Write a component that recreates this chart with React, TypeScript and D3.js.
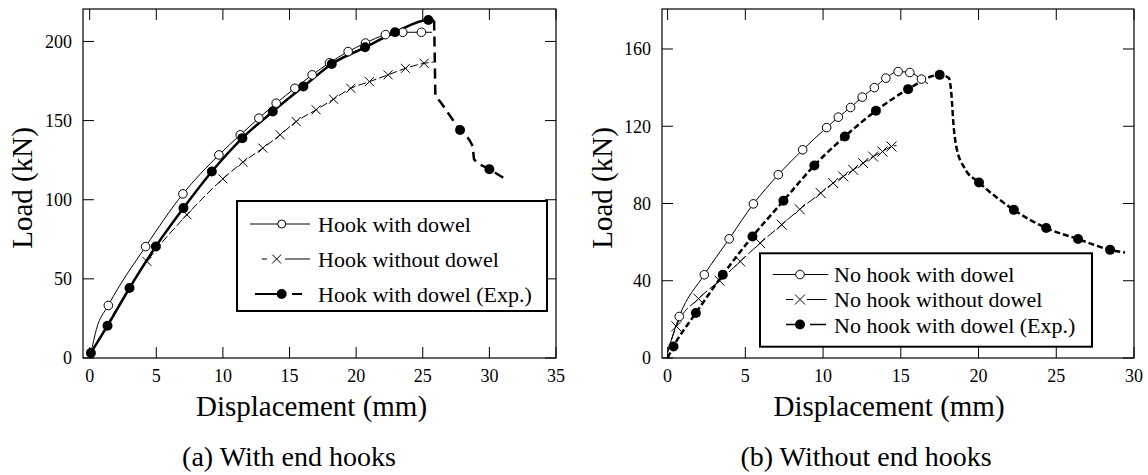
import React from "react";
import * as d3 from "d3";

type P = [number, number];

// ---------- (a) With end hooks ----------
const aXTicks = [0, 5, 10, 15, 20, 25, 30, 35];
const aYTicks = [0, 50, 100, 150, 200];

const hookDowelLine: P[] = [[0.1, 3], [0.5, 18], [1.4, 33.2], [4.2, 70.4], [7.0, 103.7], [9.7, 128.3], [11.3, 141], [12.7, 151.5], [14.0, 161], [15.4, 170.4], [16.7, 178.9], [18.0, 186.5], [19.4, 193.6], [20.7, 199], [22.2, 204.3], [23.5, 205.8], [24.9, 205.8], [25.7, 205.8]];
const hookDowelMarks: P[] = [[1.4, 33.2], [4.2, 70.4], [7.0, 103.7], [9.7, 128.3], [11.3, 141], [12.7, 151.5], [14.0, 161], [15.4, 170.4], [16.7, 178.9], [18.0, 186.5], [19.4, 193.6], [20.7, 199], [22.2, 204.3], [23.5, 205.8], [24.9, 205.8]];

const hookNoDowelLine: P[] = [[0.1, 3], [4.3, 61], [7.3, 90.5], [10.0, 113.2], [11.5, 123.7], [13.0, 132.6], [14.3, 141], [15.5, 149.4], [17.0, 156.8], [18.3, 163.5], [19.6, 170.4], [21.0, 174.6], [22.4, 178.9], [23.7, 183], [25.1, 186.2], [25.8, 187]];
const hookNoDowelMarks: P[] = [[4.3, 61], [7.3, 90.5], [10.0, 113.2], [11.5, 123.7], [13.0, 132.6], [14.3, 141], [15.5, 149.4], [17.0, 156.8], [18.3, 163.5], [19.6, 170.4], [21.0, 174.6], [22.4, 178.9], [23.7, 183], [25.1, 186.2]];

const hookExpPre: P[] = [[0.09, 3.2], [1.34, 20.4], [2.99, 44.2], [4.97, 70.5], [7.04, 94.7], [9.17, 117.8], [11.46, 138.9], [13.74, 155.7], [16.04, 171.5], [18.17, 185.8], [20.67, 196.3], [22.92, 205.8], [25.42, 213.6], [25.85, 213.2]];
const hookExpPost: P[] = [[25.85, 213.2], [25.9, 190], [25.95, 166], [26.3, 162], [27.8, 144], [28.75, 133.6], [28.85, 125.6], [30.0, 119.3], [31.1, 113.6]];
const hookExpMarks: P[] = [[0.09, 3.2], [1.34, 20.4], [2.99, 44.2], [4.97, 70.5], [7.04, 94.7], [9.17, 117.8], [11.46, 138.9], [13.74, 155.7], [16.04, 171.5], [18.17, 185.8], [20.67, 196.3], [22.92, 205.8], [25.42, 213.6], [27.8, 144], [30.0, 119.3]];

const aLegend = ["Hook with dowel", "Hook without dowel", "Hook with dowel (Exp.)"];

// ---------- (b) Without end hooks ----------
const bXTicks = [0, 5, 10, 15, 20, 25, 30];
const bYTicks = [0, 40, 80, 120, 160];

const noHookDowelLine: P[] = [[0, 3], [0.75, 21.5], [2.36, 43.1], [3.96, 61.7], [5.52, 79.8], [7.12, 94.9], [8.69, 107.8], [10.23, 119.3], [10.98, 124.7], [11.77, 129.7], [12.52, 135.1], [13.3, 140], [14.04, 144.9], [14.83, 148.3], [15.58, 147.8], [16.33, 144.4], [16.75, 142]];
const noHookDowelMarks: P[] = [[0.75, 21.5], [2.36, 43.1], [3.96, 61.7], [5.52, 79.8], [7.12, 94.9], [8.69, 107.8], [10.23, 119.3], [10.98, 124.7], [11.77, 129.7], [12.52, 135.1], [13.3, 140], [14.04, 144.9], [14.83, 148.3], [15.58, 147.8], [16.33, 144.4]];

const noHookNoDowelLine: P[] = [[0, 3], [0.56, 16.4], [1.99, 30.7], [3.34, 40], [4.67, 50], [5.95, 59.5], [7.34, 69], [8.5, 77], [9.85, 85.4], [10.65, 90.6], [11.3, 94], [11.94, 97.4], [12.58, 100.9], [13.22, 104.3], [13.82, 106.9], [14.4, 109.5], [14.72, 110]];
const noHookNoDowelMarks: P[] = [[0.56, 16.4], [1.99, 30.7], [3.34, 40], [4.67, 50], [5.95, 59.5], [7.34, 69], [8.5, 77], [9.85, 85.4], [10.65, 90.6], [11.3, 94], [11.94, 97.4], [12.58, 100.9], [13.22, 104.3], [13.82, 106.9], [14.4, 109.5]];

const noHookExpLine: P[] = [[0, 0], [0.38, 6], [1.82, 23.3], [3.55, 43.1], [5.46, 62.9], [7.45, 81.4], [9.44, 99.7], [11.4, 114.7], [13.4, 128], [15.47, 139.2], [17.5, 146.6], [18.1, 144.9], [18.25, 137], [18.4, 119.8], [18.57, 109.5], [19.1, 98.3], [20.03, 90.9], [22.27, 76.7], [24.35, 67.3], [26.4, 61.6], [28.46, 56], [29.42, 54.6]];
const noHookExpMarks: P[] = [[0.38, 6], [1.82, 23.3], [3.55, 43.1], [5.46, 62.9], [7.45, 81.4], [9.44, 99.7], [11.4, 114.7], [13.4, 128], [15.47, 139.2], [17.5, 146.6], [20.03, 90.9], [22.27, 76.7], [24.35, 67.3], [26.4, 61.6], [28.46, 56]];

const bLegend = ["No hook with dowel", "No hook without dowel", "No hook with dowel (Exp.)"];

const FONT = "'Liberation Serif', 'Times New Roman', serif";

type Box = { left: number; top: number; right: number; bottom: number };

function Frame({ box, x, y, xTicks, yTicks }: { box: Box; x: d3.ScaleLinear<number, number>; y: d3.ScaleLinear<number, number>; xTicks: number[]; yTicks: number[] }) {
  const tl = 11;
  return (
    <g>
      <rect x={box.left} y={box.top} width={box.right - box.left} height={box.bottom - box.top} fill="none" stroke="#000" strokeWidth={1.2} />
      {xTicks.map((t) => (
        <g key={"x" + t}>
          <line x1={x(t)} x2={x(t)} y1={box.bottom} y2={box.bottom - tl} stroke="#000" strokeWidth={1} />
          <line x1={x(t)} x2={x(t)} y1={box.top} y2={box.top + tl} stroke="#000" strokeWidth={1} />
          <text x={x(t)} y={box.bottom + 24} textAnchor="middle" fontSize={18} fontFamily={FONT}>{t}</text>
        </g>
      ))}
      {yTicks.map((t) => (
        <g key={"y" + t}>
          <line x1={box.left} x2={box.left + tl} y1={y(t)} y2={y(t)} stroke="#000" strokeWidth={1} />
          <line x1={box.right} x2={box.right - tl} y1={y(t)} y2={y(t)} stroke="#000" strokeWidth={1} />
          <text x={box.left - 11} y={y(t)} dy="0.35em" textAnchor="end" fontSize={18} fontFamily={FONT}>{t}</text>
        </g>
      ))}
    </g>
  );
}

const Circle = ({ cx, cy, r = 4.3 }: { cx: number; cy: number; r?: number }) => (
  <circle cx={cx} cy={cy} r={r} fill="#fff" stroke="#000" strokeWidth={1} />
);
const Dot = ({ cx, cy }: { cx: number; cy: number }) => <circle cx={cx} cy={cy} r={5} fill="#000" />;
const Cross = ({ cx, cy, s = 4.5 }: { cx: number; cy: number; s?: number }) => (
  <path d={`M${cx - s},${cy - s}L${cx + s},${cy + s}M${cx - s},${cy + s}L${cx + s},${cy - s}`} stroke="#000" strokeWidth={1} fill="none" />
);

export default function App() {
  // panel (a)
  const aBox: Box = { left: 83, top: 9, right: 556, bottom: 358 };
  const ax = d3.scaleLinear().domain([-0.5, 35]).range([aBox.left, aBox.right]);
  const ay = d3.scaleLinear().domain([0, 220.5]).range([aBox.bottom, aBox.top]);
  const aLine = d3.line<P>().x((d) => ax(d[0])).y((d) => ay(d[1])).curve(d3.curveMonotoneX);

  // panel (b)
  const bBox: Box = { left: 662, top: 9, right: 1134, bottom: 358 };
  const bx = d3.scaleLinear().domain([-0.36, 30]).range([bBox.left, bBox.right]);
  const by = d3.scaleLinear().domain([0, 180.7]).range([bBox.bottom, bBox.top]);
  const bLine = d3.line<P>().x((d) => bx(d[0])).y((d) => by(d[1])).curve(d3.curveMonotoneX);

  return (
    <svg width={1148} height={475} style={{ position: "absolute", left: 0, top: 0, background: "#fff" }}>
      <rect width={1148} height={475} fill="#fff" />

      {/* ---------- (a) ---------- */}
      <Frame box={aBox} x={ax} y={ay} xTicks={aXTicks} yTicks={aYTicks} />
      <path d={aLine(hookNoDowelLine) || ""} fill="none" stroke="#000" strokeWidth={1} strokeDasharray="8,3" />
      <path d={aLine(hookDowelLine) || ""} fill="none" stroke="#000" strokeWidth={1} />
      <path d={aLine(hookExpPre) || ""} fill="none" stroke="#000" strokeWidth={2.5} />
      <path d={aLine(hookExpPost) || ""} fill="none" stroke="#000" strokeWidth={2.5} strokeDasharray="10,6" />
      {hookNoDowelMarks.map((d, i) => <Cross key={"ax" + i} cx={ax(d[0])} cy={ay(d[1])} />)}
      {hookDowelMarks.map((d, i) => <Circle key={"ac" + i} cx={ax(d[0])} cy={ay(d[1])} />)}
      {hookExpMarks.map((d, i) => <Dot key={"ad" + i} cx={ax(d[0])} cy={ay(d[1])} />)}

      {/* legend (a) */}
      <rect x={237} y={201} width={310} height={110} fill="#fff" stroke="#000" strokeWidth={2} />
      <line x1={250} x2={310} y1={224} y2={224} stroke="#000" strokeWidth={1} />
      <Circle cx={281.7} cy={224} r={4} />
      <line x1={261.7} x2={267} y1={259} y2={259} stroke="#000" strokeWidth={1} />
      <Cross cx={276.7} cy={259} s={4.5} />
      <line x1={285} x2={310} y1={259} y2={259} stroke="#000" strokeWidth={1} />
      <line x1={255} x2={281} y1={294} y2={294} stroke="#000" strokeWidth={2} />
      <Dot cx={281.7} cy={294} />
      <line x1={292} x2={302} y1={294} y2={294} stroke="#000" strokeWidth={2} />
      {aLegend.map((t, i) => (
        <text key={t} x={318} y={231.7 + i * 35} fontSize={22} fontFamily={FONT}>{t}</text>
      ))}

      {/* titles (a) */}
      <text transform="translate(32,188) rotate(-90)" textAnchor="middle" fontSize={29} fontFamily={FONT}>Load (kN)</text>
      <text x={311.5} y={416} textAnchor="middle" fontSize={29} fontFamily={FONT}>Displacement (mm)</text>
      <text x={289} y={466} textAnchor="middle" fontSize={28} fontFamily={FONT}>(a) With end hooks</text>

      {/* ---------- (b) ---------- */}
      <Frame box={bBox} x={bx} y={by} xTicks={bXTicks} yTicks={bYTicks} />
      <path d={bLine(noHookNoDowelLine) || ""} fill="none" stroke="#000" strokeWidth={1} strokeDasharray="10,3" />
      <path d={bLine(noHookDowelLine) || ""} fill="none" stroke="#000" strokeWidth={1} />
      <path d={bLine(noHookExpLine) || ""} fill="none" stroke="#000" strokeWidth={2.5} strokeDasharray="6,3" />
      {noHookNoDowelMarks.map((d, i) => <Cross key={"bx" + i} cx={bx(d[0])} cy={by(d[1])} s={5} />)}
      {noHookDowelMarks.map((d, i) => <Circle key={"bc" + i} cx={bx(d[0])} cy={by(d[1])} />)}
      {noHookExpMarks.map((d, i) => <Dot key={"bd" + i} cx={bx(d[0])} cy={by(d[1])} />)}

      {/* legend (b) */}
      <rect x={760} y={253.3} width={332} height={93.4} fill="#fff" stroke="#000" strokeWidth={2} />
      <line x1={772.7} x2={828.3} y1={274.5} y2={274.5} stroke="#000" strokeWidth={1} />
      <Circle cx={800} cy={274.5} />
      <line x1={786} x2={793.3} y1={299.5} y2={299.5} stroke="#000" strokeWidth={1} />
      <Cross cx={800} cy={299.5} s={5} />
      <line x1={806.7} x2={826.7} y1={299.5} y2={299.5} stroke="#000" strokeWidth={1} />
      <line x1={786} x2={795} y1={324.5} y2={324.5} stroke="#000" strokeWidth={1.5} />
      <Dot cx={800} cy={324.5} />
      <line x1={810} x2={826} y1={324.5} y2={324.5} stroke="#000" strokeWidth={1.5} />
      {bLegend.map((t, i) => (
        <text key={t} x={834} y={281.7 + i * 25.5} fontSize={22} fontFamily={FONT}>{t}</text>
      ))}

      {/* titles (b) */}
      <text transform="translate(612,188) rotate(-90)" textAnchor="middle" fontSize={29} fontFamily={FONT}>Load (kN)</text>
      <text x={889} y={416} textAnchor="middle" fontSize={29} fontFamily={FONT}>Displacement (mm)</text>
      <text x={866} y={466} textAnchor="middle" fontSize={28} fontFamily={FONT}>(b) Without end hooks</text>
    </svg>
  );
}
